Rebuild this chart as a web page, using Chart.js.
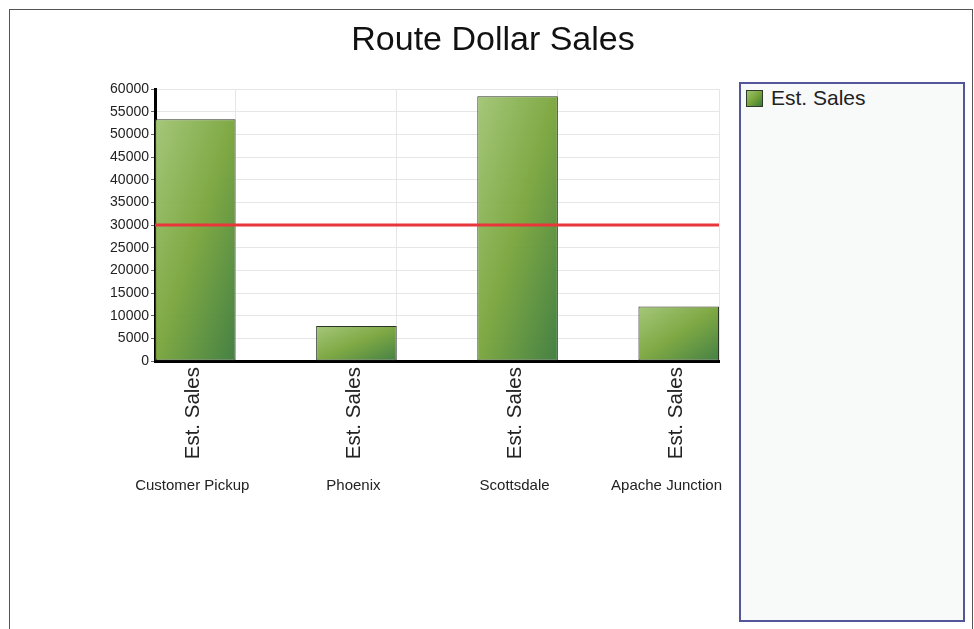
<!DOCTYPE html>
<html>
<head>
<meta charset="utf-8">
<script src="https://cdn.jsdelivr.net/npm/chart.js@4.4.1/dist/chart.umd.min.js"></script>
<style>
  body { margin: 0; background: #fff; overflow: hidden; }
  #frame { position: absolute; left: 9px; top: 9px; width: 962px; height: 640px; border: 1px solid #555; }
  #chart { position: absolute; left: 0; top: 0; }
  #legend { position: absolute; left: 739px; top: 82px; width: 222px; height: 536px;
    border: 2px solid #55559a; background: #f8fafa; font-family: 'Liberation Sans', Arial, sans-serif; }
  .item { position: absolute; left: 5px; top: 3px; font-size: 21px; color: #222; line-height: 22px; }
  .swatch { display: inline-block; width: 15px; height: 15px; border: 1px solid #2f3a2a;
    vertical-align: -2px; margin-right: 8px;
    background: linear-gradient(135deg, #a0c473 0%, #78a43a 50%, #3b7a3a 100%); }
</style>
</head>
<body>
<div id="frame"></div>
<canvas id="chart" width="974" height="629"></canvas>
<div id="legend"></div>
<script>
// chart data
var categories = ['Customer Pickup', 'Phoenix', 'Scottsdale', 'Apache Junction'];
var seriesName = 'Est. Sales';
var estSales = [53300, 7700, 58400, 12000];
var targetValue = 30000;
var chartTitle = 'Route Dollar Sales';
var yMin = 0, yMax = 60000, yStep = 5000;

var FONT = "'Liberation Sans', Arial, sans-serif";

// diagonal gradient like the old GDI+ charts: corners top-right and bottom-left share a colour
function barFill(ctx) {
  var chart = ctx.chart;
  var xs = chart.scales.x, ys = chart.scales.y;
  if (!xs || !ys || ctx.type !== 'data' || !chart.chartArea) return '#78a43a';
  var cx = xs.getPixelForValue(ctx.raw.x);
  var hw = xs.getPixelForValue(0.25) - xs.getPixelForValue(0);
  var top = ys.getPixelForValue(ctx.raw.y);
  var bottom = ys.getPixelForValue(0);
  var w = hw * 2, h = bottom - top;
  var k = 2 * w * h / (w * w + h * h);
  var g = chart.ctx.createLinearGradient(cx - hw, top, cx - hw + h * k, top + w * k);
  g.addColorStop(0, 'rgba(160,196,115,0.95)');
  g.addColorStop(0.5, 'rgba(120,164,58,0.95)');
  g.addColorStop(1, 'rgba(59,122,58,0.95)');
  return g;
}

// title, red target line + labels under the axis
var extras = {
  id: 'extras',
  afterDatasetsDraw: function(chart) {
    var c = chart.ctx, a = chart.chartArea;
    var yy = chart.scales.y.getPixelForValue(targetValue);
    c.save();
    c.strokeStyle = '#e8363a';
    c.lineWidth = 3;
    c.beginPath();
    c.moveTo(a.left, yy);
    c.lineTo(a.right, yy);
    c.stroke();
    c.restore();
  },
  afterDraw: function(chart) {
    var c = chart.ctx, a = chart.chartArea, xs = chart.scales.x;
    c.save();
    c.fillStyle = '#111';
    c.font = '34px ' + FONT;
    c.textAlign = 'center';
    c.textBaseline = 'middle';
    c.fillText(chartTitle, 493, 41);
    c.fillStyle = '#222';
    categories.forEach(function(name, i) {
      var cx = xs.getPixelForValue(i);
      // rotated series label
      c.save();
      c.translate(cx - 2, a.bottom + 6);
      c.rotate(-Math.PI / 2);
      c.font = '20.5px ' + FONT;
      c.textAlign = 'right';
      c.textBaseline = 'middle';
      c.fillText(seriesName, 0, 0);
      c.restore();
      // category name
      c.font = '15px ' + FONT;
      c.textAlign = 'center';
      c.textBaseline = 'middle';
      var tw = c.measureText(name).width;
      var px = cx - 3;
      if (px + tw / 2 > a.right + 3) px = a.right + 3 - tw / 2;
      c.fillText(name, px, a.bottom + 125);
    });
    c.restore();
  }
};

var points = estSales.map(function(v, i) { return { x: i, y: v }; });

new Chart(document.getElementById('chart'), {
  type: 'bar',
  data: {
    datasets: [{
      label: seriesName,
      data: points,
      backgroundColor: barFill,
      borderColor: '#2a3326',
      borderWidth: 1,
      borderSkipped: false,
      barPercentage: 0.5,
      categoryPercentage: 1
    }]
  },
  options: {
    responsive: false,
    animation: false,
    layout: { padding: { left: 95, right: 255, top: 89, bottom: 0 } },
    plugins: {
      legend: { display: false },
      tooltip: { enabled: false },
      title: { display: false }
    },
    scales: {
      x: {
        type: 'linear',
        offset: false,
        min: -0.25,
        max: 3.25,
        afterBuildTicks: function(scale) {
          scale.ticks = categories.map(function(n, i) { return { value: i + 0.25 }; });
        },
        afterFit: function(scale) { scale.height = 268; },
        ticks: { display: false },
        grid: { color: '#e6e6e6', drawTicks: false, offset: false },
        border: { color: '#000', width: 3 }
      },
      y: {
        min: yMin,
        max: yMax,
        afterFit: function(scale) { scale.width = 60; },
        ticks: {
          stepSize: yStep,
          padding: 2,
          color: '#222',
          font: { family: FONT, size: 14 },
          callback: function(v) { return String(v); }
        },
        grid: { color: '#e6e6e6', drawTicks: true, tickLength: 4, tickColor: '#666' },
        border: { color: '#000', width: 3 }
      }
    }
  },
  plugins: [extras]
});

document.getElementById('legend').innerHTML =
  '<div class="item"><span class="swatch"></span>' + seriesName + '</div>';
</script>
</body>
</html>
